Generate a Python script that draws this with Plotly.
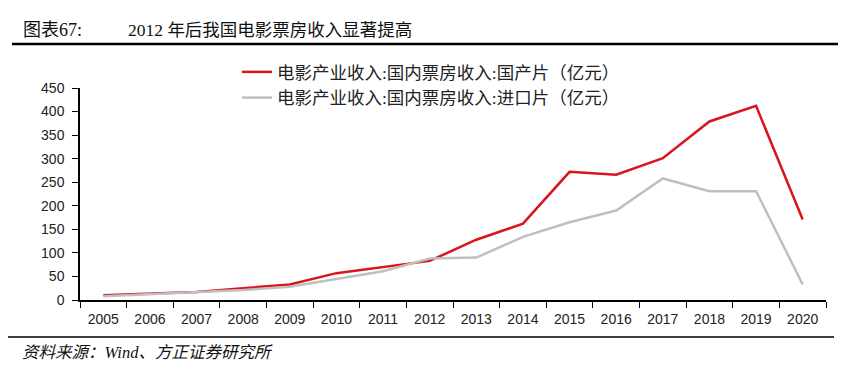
import plotly.graph_objects as go

years = [str(y) for y in range(2005, 2021)]
domestic = [10, 14, 17, 25, 33, 57, 70, 83, 128, 162, 272, 266, 301, 379, 412, 171]
imported = [8, 12, 16, 21, 28, 45, 61, 88, 90, 134, 165, 190, 258, 231, 231, 33]
name_dom = "电影产业收入:国内票房收入:国产片（亿元）"
name_imp = "电影产业收入:国内票房收入:进口片（亿元）"
title_left = "图表67:"
title_right = "2012 年后我国电影票房收入显著提高"
source = "资料来源：Wind、方正证券研究所"

cjk = "Liberation Serif, Noto Sans CJK SC"

# The page has an 8px body margin; figure is sized so the screen layout matches.
W, H = 840, 358

def px(sx):
    return (sx - 80) / 746

def py(sy):
    return (300 - sy) / 212

fig = go.Figure()
fig.add_trace(go.Scatter(x=years, y=domestic, mode="lines", name=name_dom,
                         line=dict(color="#D9141B", width=2.5)))
fig.add_trace(go.Scatter(x=years, y=imported, mode="lines", name=name_imp,
                         line=dict(color="#BFBFBF", width=2.5)))

fig.update_layout(
    width=W, height=H,
    margin=dict(l=72, r=22, t=80, b=66),
    paper_bgcolor="white", plot_bgcolor="white",
    showlegend=True,
    legend=dict(x=px(237), y=py(54), xanchor="left", yanchor="top",
                font=dict(family=cjk, size=17.5, color="#222"),
                bgcolor="rgba(0,0,0,0)", tracegroupgap=0, itemwidth=30),
    font=dict(family="Liberation Sans, Arial", size=14, color="#222"),
)
fig.update_xaxes(type="category", range=[-0.5, 15.5], showline=True, linecolor="black",
                 linewidth=1.5, ticks="outside", tickson="boundaries", ticklen=6,
                 tickcolor="black", showgrid=False, ticklabelstandoff=5,
                 tickfont=dict(size=14, color="#222"))
fig.update_yaxes(range=[0, 450], dtick=50, showline=True, linecolor="black", linewidth=1.5,
                 ticks="outside", ticklen=6, tickcolor="black", showgrid=False,
                 zeroline=False, ticklabelstandoff=5, tickfont=dict(size=14, color="#222"))

fig.add_annotation(xref="paper", yref="paper", x=px(21), y=py(30),
                   text=title_left, showarrow=False, xanchor="left", yanchor="middle",
                   font=dict(family=cjk, size=18, color="#111"))
fig.add_annotation(xref="paper", yref="paper", x=px(126), y=py(30),
                   text=title_right, showarrow=False, xanchor="left", yanchor="middle",
                   font=dict(family=cjk, size=17.5, color="#111"))
fig.add_annotation(xref="paper", yref="paper", x=px(20), y=py(352),
                   text="<i>" + source + "</i>", showarrow=False, xanchor="left", yanchor="middle",
                   font=dict(family=cjk, size=16.5, color="#111"))
fig.add_shape(type="line", xref="paper", yref="paper", x0=px(12), x1=px(838),
              y0=py(44), y1=py(44), line=dict(color="black", width=2.5))
fig.add_shape(type="line", xref="paper", yref="paper", x0=px(8), x1=px(834),
              y0=py(337), y1=py(337), line=dict(color="black", width=1.5))

fig.write_html("out.html")
